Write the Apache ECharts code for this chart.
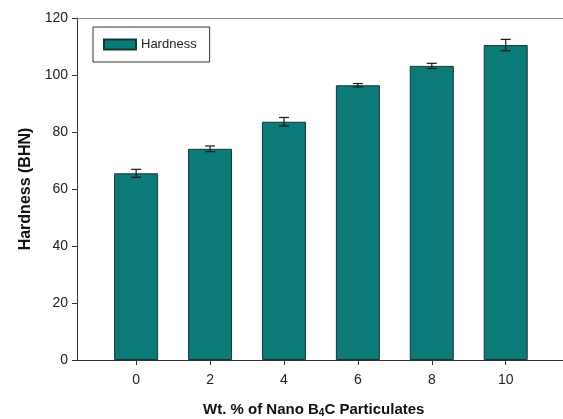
<!DOCTYPE html>
<html>
<head>
<meta charset="utf-8">
<script src="https://cdn.jsdelivr.net/npm/echarts@6/dist/echarts.min.js"></script>
<style>
  html, body { margin: 0; padding: 0; background: #fff; }
  #chart { width: 563px; height: 419px; }
</style>
</head>
<body>
<div id="chart"></div>
<script>
// Wt. % of nano B4C in the composite
const wtPercent = [0, 2, 4, 6, 8, 10];
// Mean Brinell hardness and its standard deviation
const hardness = [65.5, 74.1, 83.6, 96.4, 103.2, 110.5];
const hardnessErr = [1.4, 1.0, 1.5, 0.6, 0.9, 2.0];
const yTicks = [0, 20, 40, 60, 80, 100, 120];

const barData = wtPercent.map((x, i) => [x, hardness[i]]);
const errData = wtPercent.map((x, i) => [x, hardness[i] - hardnessErr[i], hardness[i] + hardnessErr[i]]);

const FONT = '"Liberation Sans", Arial, sans-serif';
const X_MIN = -1.6, X_MAX = 11.55;
const chart = echarts.init(document.getElementById('chart'));

chart.setOption({
  animation: false,
  backgroundColor: '#fff',
  grid: { left: 77, top: 18, right: 0, bottom: 59 },
  legend: {
    left: 93, top: 27,
    padding: [11, 13, 11, 10],
    borderColor: '#333', borderWidth: 1,
    icon: 'rect',
    itemWidth: 32, itemHeight: 10, itemGap: 8,
    textStyle: { fontFamily: FONT, fontSize: 13, color: '#222' },
    data: ['Hardness']
  },
  title: {
    left: 198, top: 396,
    text: '{a|Wt. % of Nano B}{s|4}{a|C Particulates}',
    textStyle: {
      rich: {
        a: { fontFamily: FONT, fontSize: 15, fontWeight: 'bold', color: '#111' },
        s: { fontFamily: FONT, fontSize: 10, fontWeight: 'bold', color: '#111', verticalAlign: 'bottom', padding: [7, 0, 0, 0] }
      }
    }
  },
  xAxis: [
    {
      type: 'value', min: X_MIN, max: X_MAX,
      splitLine: { show: false },
      axisLine: { show: true, onZero: false, lineStyle: { color: '#333', width: 1 } },
      axisTick: { show: true, length: 5, customValues: wtPercent, lineStyle: { color: '#333' } },
      axisLabel: { customValues: wtPercent, margin: 13, fontFamily: FONT, fontSize: 14, color: '#222' }
    },
    {
      // top frame line
      type: 'value', position: 'top', min: X_MIN, max: X_MAX,
      splitLine: { show: false },
      axisLine: { show: true, onZero: false, lineStyle: { color: '#8a8a8a', width: 1 } },
      axisTick: { show: false },
      axisLabel: { show: false }
    }
  ],
  yAxis: {
    type: 'value', min: 0, max: 120, interval: 20,
    name: 'Hardness (BHN)', nameLocation: 'middle', nameGap: 42,
    nameTextStyle: { fontFamily: FONT, fontSize: 16, fontWeight: 'bold', color: '#111' },
    splitLine: { show: false },
    axisLine: { show: true, onZero: false, lineStyle: { color: '#333', width: 1 } },
    axisTick: { show: true, length: 5, customValues: yTicks, lineStyle: { color: '#333' } },
    axisLabel: { customValues: yTicks, margin: 9, fontFamily: FONT, fontSize: 14, color: '#222' }
  },
  series: [
    {
      name: 'Hardness',
      type: 'bar',
      data: barData,
      barWidth: 44,
      itemStyle: { color: '#0b7a78', borderColor: '#1a3535', borderWidth: 1 }
    },
    {
      name: 'error',
      type: 'custom',
      data: errData,
      z: 10,
      renderItem: function (params, api) {
        const x = api.value(0);
        const lo = api.coord([x, api.value(1)]);
        const hi = api.coord([x, api.value(2)]);
        const half = 5;
        const style = { stroke: '#1a1a1a', lineWidth: 1.2 };
        return {
          type: 'group',
          children: [
            { type: 'line', shape: { x1: lo[0], y1: lo[1], x2: hi[0], y2: hi[1] }, style: style },
            { type: 'line', shape: { x1: hi[0] - half, y1: hi[1], x2: hi[0] + half, y2: hi[1] }, style: style },
            { type: 'line', shape: { x1: lo[0] - half, y1: lo[1], x2: lo[0] + half, y2: lo[1] }, style: style }
          ]
        };
      }
    }
  ]
});
</script>
</body>
</html>
